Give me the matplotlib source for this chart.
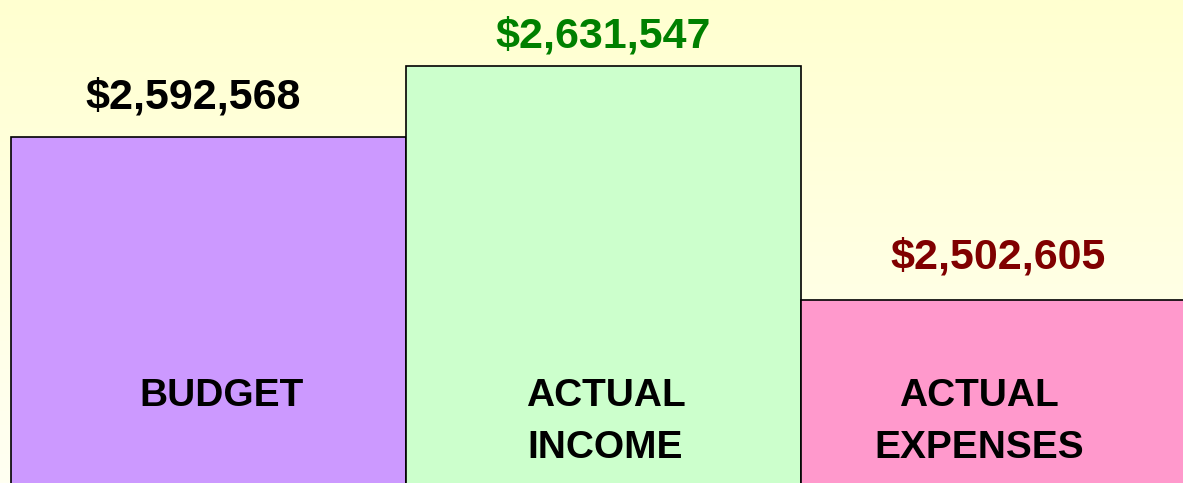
import numpy as np
import matplotlib
matplotlib.use("Agg")
import matplotlib.pyplot as plt
from matplotlib.colors import LinearSegmentedColormap

categories = ["BUDGET", "ACTUAL\nINCOME", "ACTUAL\nEXPENSES"]
values = [2592568, 2631547, 2502605]
value_labels = ["$2,592,568", "$2,631,547", "$2,502,605"]
bar_colors = ["#CC99FF", "#CCFFCC", "#FF99CC"]
value_colors = ["#000000", "#008000", "#800000"]

fig = plt.figure(figsize=(11.83, 4.83), dpi=100)
ax = fig.add_axes([0, 0, 1, 1])

# background gradient
cmap = LinearSegmentedColormap.from_list("bg", ["#FFFFF2", "#FFFFD0"])
grad = np.linspace(0, 1, 256).reshape(-1, 1)
ax.imshow(grad, cmap=cmap, aspect="auto", extent=[0, 1, 0, 1],
          transform=ax.transAxes, origin="lower", zorder=0)

x = np.arange(len(values))
ax.bar(x, values, width=1.0, color=bar_colors, edgecolor="black",
       linewidth=1.2, zorder=2)

ax.set_xlim(-0.528, 2.467)
ax.set_ylim(2401800, 2667900)
ax.axis("off")

font = "Liberation Sans"
val_dx = [-0.04, 0.0, 0.0]
val_dy = [21500, 16500, 23500]
cat_dx = [0.033, 0.005, -0.05]
for i, (v, lab, col) in enumerate(zip(values, value_labels, value_colors)):
    ax.text(x[i] + val_dx[i], v + val_dy[i], lab, ha="center",
            va="center", fontsize=31, fontweight="bold", color=col,
            family=font, zorder=3)

for i, cat in enumerate(categories):
    ax.text(x[i] + cat_dx[i], 2459500, cat, ha="center", va="top",
            fontsize=28, fontweight="bold", color="black", family=font,
            linespacing=1.56, zorder=3)

fig.savefig("out.png", dpi=100)
